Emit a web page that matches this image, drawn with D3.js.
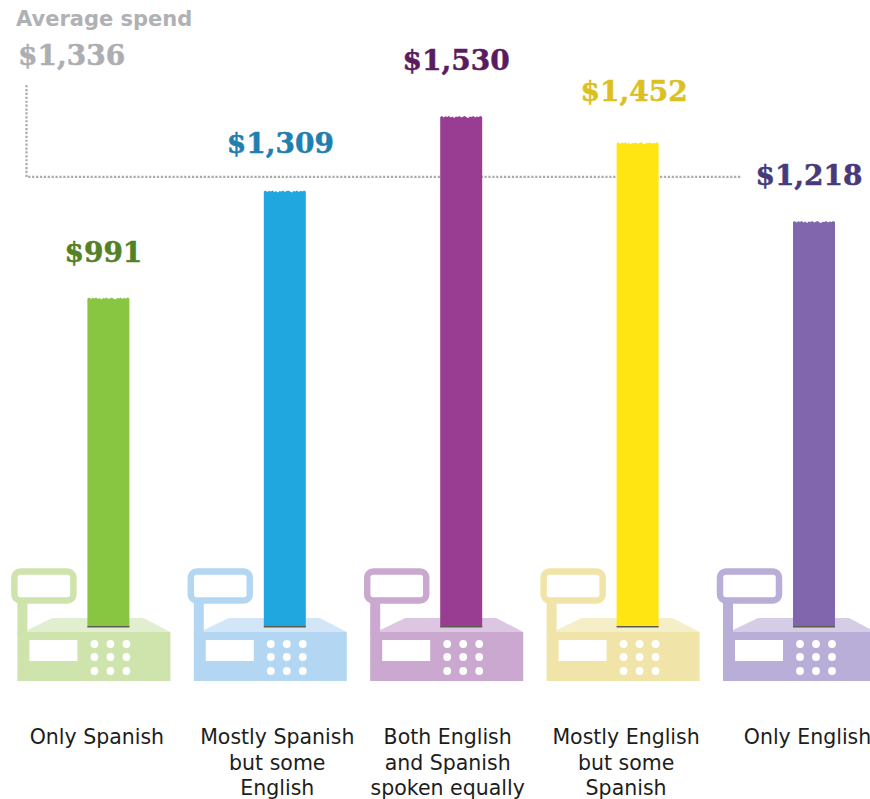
<!DOCTYPE html>
<html><head><meta charset="utf-8">
<script src="https://cdn.jsdelivr.net/npm/d3@7"></script>
<style>html,body{margin:0;padding:0;background:#fff}svg{display:block}</style>
</head><body><svg id="c" width="870" height="799"></svg>
<script>
const categories = [["Only Spanish"],["Mostly Spanish","but some","English"],["Both English","and Spanish","spoken equally"],["Mostly English","but some","Spanish"],["Only English"]];
const categoryKeys = ["os","ms","both","me","oe"];
const values = [991,1309,1530,1452,1218];
const valueLabels = ["$991","$1,309","$1,530","$1,452","$1,218"];
const barColors = ["#88c540","#20a7e0","#993d93","#ffe512","#8166ad"];
const labelColors = ["#538125","#1f7fb0","#5a1c5e","#dcc020","#47397a"];
const iconColors = ["#cfe3ad","#b3d7f2","#cba8d0","#f0e4a8","#b9aed8"];
const iconTopColors = ["#e2eed0","#d3e6f7","#dcc6e1","#f5efc9","#d5cde6"];
const averageLabel = "Average spend";
const averageValue = "$1,336";
const averageLineLevel = 1349; // where the dotted rule sits in the picture
const averageStemTop = 1622;

// layout offsets, not data
const labelGap = [35,37,46,41,36];
const labelShift = [-5,-4.5,-5,-3.5,-5];
const catShift = [-11.5,-7.5,-13.5,-11.5,-6.5];

const svg = d3.select("#c");
const y = d3.scaleLinear().domain([12,1530]).range([627,116]);
const baseY = y.range()[0];
const x = d3.scalePoint().domain(categoryKeys).range([108.4,814]);
const barW = 42;
const sans = "'DejaVu Sans',Verdana,sans-serif", serif = "'DejaVu Serif',Georgia,serif";

// icons
const icons = svg.append("g").selectAll("g").data(categoryKeys).join("g")
  .attr("transform", d=>`translate(${x(d)},0)`);
icons.append("path").attr("fill",(d,i)=>iconTopColors[i])
  .attr("d","M-81,630L-56,618L35,618L62,632L-81,632Z");
icons.append("rect").attr("x",-91).attr("y",632).attr("width",153).attr("height",49).attr("fill",(d,i)=>iconColors[i]);
icons.append("rect").attr("x",-91).attr("y",600).attr("width",10).attr("height",34).attr("fill",(d,i)=>iconColors[i]);
icons.append("rect").attr("x",-94).attr("y",571.5).attr("width",59).attr("height",29).attr("rx",6)
  .attr("fill","#fff").attr("stroke",(d,i)=>iconColors[i]).attr("stroke-width",6.5);
icons.append("rect").attr("x",-79).attr("y",640).attr("width",48).attr("height",21).attr("fill","#fff");
const dotX=[-14,2,18], dotY=[644,657,671];
icons.each(function(){
  const g=d3.select(this);
  dotY.forEach(cy=>dotX.forEach(cx=>g.append("circle").attr("cx",cx).attr("cy",cy).attr("r",3.9).attr("fill","#fff")));
});

// average rule
const xEnd = 742;
svg.append("path").attr("fill","none").attr("stroke","#a9aaac").attr("stroke-width",2.2).attr("stroke-dasharray","2.2 1.7")
  .attr("d",d3.line()([[26.5,y(averageStemTop)],[26.5,y(averageLineLevel)],[xEnd,y(averageLineLevel)]]));

// bars
const teeth=[1,0,1.5,.3,1,0,1.5,.5,2,.5,1,0,1.5,.7,0,1.2,2,.6,1,0,1.5,.4,1,0,1];
const barPath=(d,i)=>{
  const cx=x(d), top=y(values[i]), bw=barW/(teeth.length-1);
  const pts=teeth.map((t,k)=>`${k?"L":"M"}${cx-barW/2+k*bw},${top+t}`).join("");
  return `${pts}L${cx+barW/2},${baseY}L${cx-barW/2},${baseY}Z`;
};
svg.append("g").selectAll("path").data(categoryKeys).join("path").attr("d",barPath).attr("fill",(d,i)=>barColors[i]);
svg.append("g").selectAll("rect").data(categoryKeys).join("rect")
  .attr("x",d=>x(d)-barW/2).attr("y",baseY-1).attr("width",barW).attr("height",1.5).attr("fill","#5c5c50");

// value labels
svg.append("g").selectAll("text").data(categoryKeys).join("text")
  .attr("x",(d,i)=>x(d)+labelShift[i]).attr("y",(d,i)=>y(values[i])-labelGap[i])
  .attr("text-anchor","middle").attr("font-family",serif).attr("font-weight",700).attr("font-size",28)
  .attr("stroke",(d,i)=>labelColors[i]).attr("stroke-width",0.5)
  .attr("fill",(d,i)=>labelColors[i]).text((d,i)=>valueLabels[i]);

// average labels
svg.append("text").attr("x",16).attr("y",26).attr("font-family",sans).attr("font-weight",700).attr("font-size",21).attr("fill","#b0b1b4").text(averageLabel);
svg.append("text").attr("x",18).attr("y",65).attr("font-family",serif).attr("font-weight",700).attr("font-size",28)
  .attr("stroke","#adaeb1").attr("stroke-width",0.5).attr("fill","#adaeb1").text(averageValue);

// categories
const cat=svg.append("g").selectAll("g").data(categoryKeys).join("g");
cat.each(function(d,i){
  const g=d3.select(this);
  categories[i].forEach((line,k)=>g.append("text").attr("x",x(d)+catShift[i]).attr("y",744+k*25.5)
    .attr("text-anchor","middle").attr("font-family",sans).attr("font-size",20.5).attr("fill","#1d1d1b").text(line));
});
</script></body></html>
